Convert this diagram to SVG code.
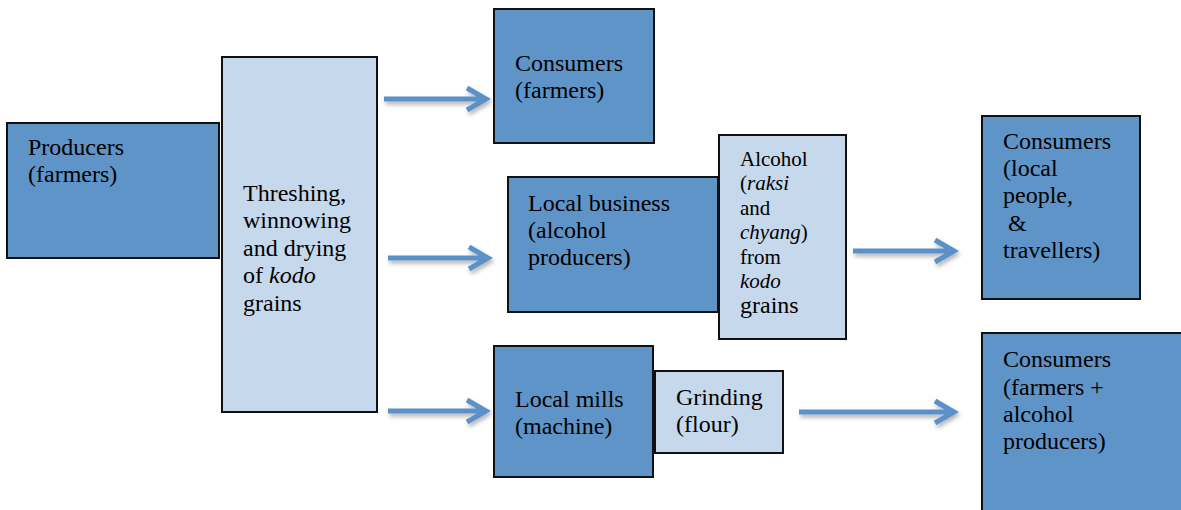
<svg xmlns="http://www.w3.org/2000/svg" width="1181" height="510" viewBox="0 0 1181 510">
  <style>
    .dark { fill: #5f94c8; stroke: #111; stroke-width: 2; }
    .light { fill: #c6d8ec; stroke: #111; stroke-width: 2; }
    text { font-family: 'Liberation Serif', 'DejaVu Serif', serif; font-size: 24px; fill: #000; }
    .small { font-size: 21px; }
    .arrow { fill: none; stroke: #5b90c8; stroke-width: 5; stroke-linejoin: miter; stroke-linecap: butt; }
  </style>
  <defs>
    <filter id="shadow" x="-10%" y="-50%" width="130%" height="250%">
      <feDropShadow dx="1.5" dy="3" stdDeviation="2" flood-color="#000" flood-opacity="0.3"/>
    </filter>
  </defs>

  <rect width="1181" height="510" fill="#fff"/>

  <!-- flow arrows -->
  <g id="connectors" filter="url(#shadow)">
    <path class="arrow" d="M384 99 H484 M467 88 L486 99 L467 110"/>
    <path class="arrow" d="M388 258 H486 M469 247 L488 258 L469 269"/>
    <path class="arrow" d="M388 411 H484 M467 400 L486 411 L467 422"/>
    <path class="arrow" d="M853 251 H952 M935 240 L954 251 L935 262"/>
    <path class="arrow" d="M799 412 H952 M935 401 L954 412 L935 423"/>
  </g>

  <g id="producers">
    <rect class="dark" x="7" y="123" width="212" height="135"/>
    <text x="28" y="155">Producers</text>
    <text x="28" y="182">(farmers)</text>
  </g>

  <g id="processing">
    <rect class="light" x="222" y="57" width="155" height="355"/>
    <text x="243" y="201">Threshing,</text>
    <text x="243" y="228">winnowing</text>
    <text x="243" y="256">and drying</text>
    <text x="243" y="283">of <tspan font-style="italic">kodo</tspan></text>
    <text x="243" y="311">grains</text>
  </g>

  <g id="consumers-farmers">
    <rect class="dark" x="494" y="9" width="160" height="134"/>
    <text x="515" y="71">Consumers</text>
    <text x="515" y="98">(farmers)</text>
  </g>

  <g id="local-business">
    <rect class="dark" x="508" y="177" width="210" height="135"/>
    <text x="528" y="211">Local business</text>
    <text x="528" y="238">(alcohol</text>
    <text x="528" y="265">producers)</text>
  </g>

  <g id="alcohol">
    <rect class="light" x="719" y="135" width="127" height="204"/>
    <text class="small" x="740" y="166">Alcohol</text>
    <text class="small" x="740" y="190">(<tspan font-style="italic">raksi</tspan></text>
    <text class="small" x="740" y="215">and</text>
    <text class="small" x="740" y="239"><tspan font-style="italic">chyang</tspan>)</text>
    <text class="small" x="740" y="264">from</text>
    <text class="small" x="740" y="288" font-style="italic">kodo</text>
    <text x="740" y="313" font-size="23">grains</text>
  </g>

  <g id="consumers-local">
    <rect class="dark" x="982" y="116" width="158" height="183"/>
    <text x="1003" y="149">Consumers</text>
    <text x="1003" y="176">(local</text>
    <text x="1003" y="203">people,</text>
    <text x="1008" y="231">&amp;</text>
    <text x="1003" y="258">travellers)</text>
  </g>

  <g id="local-mills">
    <rect class="dark" x="494" y="346" width="159" height="131"/>
    <text x="515" y="407">Local mills</text>
    <text x="515" y="434">(machine)</text>
  </g>

  <g id="grinding">
    <rect class="light" x="655" y="371" width="128" height="82"/>
    <text x="676" y="405">Grinding</text>
    <text x="676" y="432">(flour)</text>
  </g>

  <g id="consumers-flour">
    <rect class="dark" x="982" y="333" width="210" height="190"/>
    <text x="1003" y="367">Consumers</text>
    <text x="1003" y="395">(farmers +</text>
    <text x="1003" y="422">alcohol</text>
    <text x="1003" y="449">producers)</text>
  </g>
</svg>
